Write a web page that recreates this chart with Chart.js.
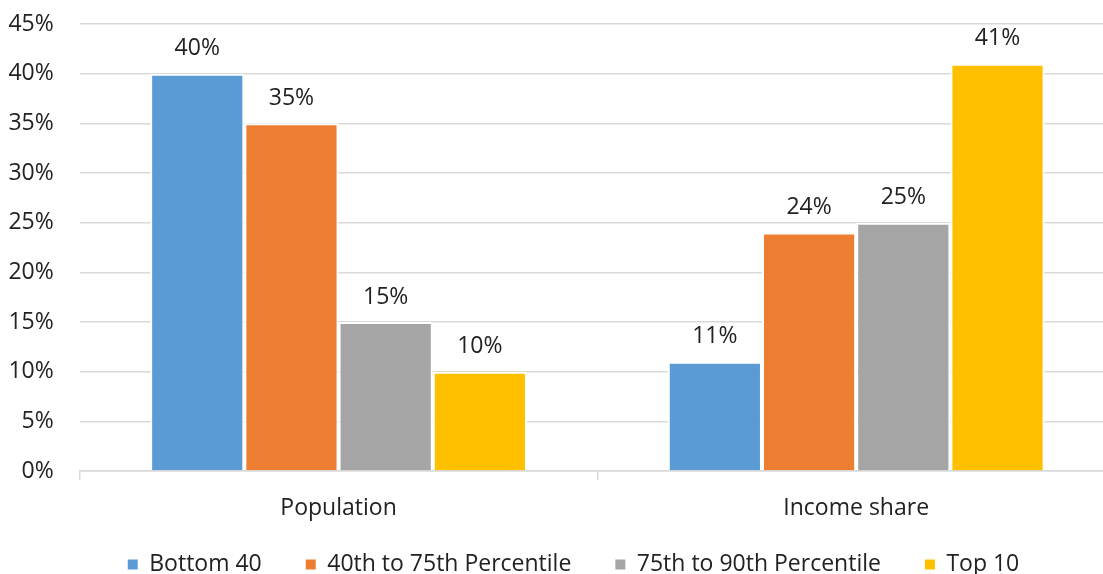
<!DOCTYPE html>
<html>
<head>
<meta charset="utf-8">
<script src="https://cdn.jsdelivr.net/npm/chart.js@4.4.0/dist/chart.umd.min.js"></script>
<style>
    html, body { margin: 0; padding: 0; background: #fff; overflow: hidden; }
    #wrap { position: relative; width: 1120px; height: 600px; }
</style>
</head>
<body>
<div id="wrap"><canvas id="incomeChart"></canvas></div>
<script>
// Data
const categories = ['Population', 'Income share'];
const seriesNames = ['Bottom 40', '40th to 75th Percentile', '75th to 90th Percentile', 'Top 10'];
const bottom40 = [40, 11];
const pct40to75 = [35, 24];
const pct75to90 = [15, 25];
const top10 = [10, 41];
const seriesColors = ['#5B9BD5', '#ED7D31', '#A5A5A5', '#FFC000'];
const yTicks = [0, 5, 10, 15, 20, 25, 30, 35, 40, 45];

const FONT = { family: '"Open Sans", sans-serif', size: 23 };
const TEXT_COLOR = '#222222';
const GRID_COLOR = '#d9d9d9';

// Value labels above each bar
const barLabels = {
    id: 'barLabels',
    afterDatasetsDraw(chart) {
        const ctx = chart.ctx;
        ctx.save();
        ctx.font = `${FONT.size}px ${FONT.family}`;
        ctx.fillStyle = TEXT_COLOR;
        ctx.textAlign = 'center';
        ctx.textBaseline = 'middle';
        chart.data.datasets.forEach((ds, i) => {
            const meta = chart.getDatasetMeta(i);
            meta.data.forEach((bar, j) => {
                ctx.fillText(ds.data[j] + '%', bar.x, bar.y - 25);
            });
        });
        ctx.restore();
    }
};

// Shift the legend so it sits centred under the plot like the original
const legendPlacement = {
    id: 'legendPlacement',
    afterLayout(chart) {
        const lg = chart.legend;
        if (!lg) return;
        const h = lg.bottom - lg.top;
        lg.left = 32;
        lg.right = 1115;
        lg.top = 509;
        lg.bottom = 509 + h;
    }
};

document.addEventListener('DOMContentLoaded', () => {
    const ctx = document.getElementById('incomeChart');
    const values = [bottom40, pct40to75, pct75to90, top10];

    new Chart(ctx, {
        type: 'bar',
        data: {
            labels: categories,
            datasets: seriesNames.map((name, i) => ({
                label: name,
                data: values[i],
                backgroundColor: seriesColors[i],
                borderColor: '#ffffff',
                borderWidth: 2,
                barPercentage: 1,
                categoryPercentage: 0.728
            }))
        },
        options: {
            responsive: true,
            maintainAspectRatio: false,
            animation: false,
            layout: {
                padding: { top: 24, left: 0, right: 5, bottom: 0 }
            },
            plugins: {
                tooltip: { enabled: false },
                legend: {
                    position: 'bottom',
                    labels: {
                        boxWidth: 10,
                        boxHeight: 10,
                        padding: 44,
                        color: TEXT_COLOR,
                        font: FONT,
                        generateLabels: (chart) => chart.data.datasets.map((ds, i) => ({
                            text: ds.label,
                            fillStyle: seriesColors[i],
                            strokeStyle: seriesColors[i],
                            lineWidth: 0,
                            fontColor: TEXT_COLOR,
                            datasetIndex: i
                        }))
                    }
                }
            },
            scales: {
                x: {
                    afterFit: (scale) => { scale.height = 52; },
                    border: { display: true, color: GRID_COLOR, width: 1.5 },
                    grid: {
                        offset: true,
                        drawOnChartArea: false,
                        drawTicks: true,
                        tickLength: 9,
                        color: GRID_COLOR,
                        lineWidth: 1.5
                    },
                    ticks: { color: TEXT_COLOR, font: FONT, padding: 15 }
                },
                y: {
                    min: 0,
                    max: 45,
                    afterFit: (scale) => {
                        scale.width = 79.75;
                        scale.paddingTop = 0;
                        scale.paddingBottom = 0;
                    },
                    afterBuildTicks: (scale) => {
                        scale.ticks = yTicks.map(v => ({ value: v }));
                    },
                    border: { display: false },
                    grid: { drawTicks: false, color: GRID_COLOR, lineWidth: 1.5 },
                    ticks: {
                        color: TEXT_COLOR,
                        font: FONT,
                        padding: 26,
                        callback: (v) => v + '%'
                    }
                }
            }
        },
        plugins: [barLabels, legendPlacement]
    });
});
</script>
</body>
</html>
